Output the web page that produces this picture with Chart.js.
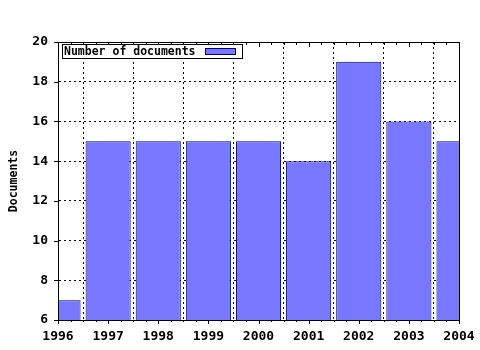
<!DOCTYPE html>
<html>
<head>
<meta charset="utf-8">
<script src="https://cdn.jsdelivr.net/npm/chart.js@4/dist/chart.umd.min.js"></script>
<style>
  html, body { margin: 0; padding: 0; background: #fff; }
  #wrap { width: 480px; height: 350px; }
</style>
</head>
<body>
<div id="wrap"><canvas id="docs-chart" width="480" height="350"></canvas></div>
<script>
// data
const years = [1996, 1997, 1998, 1999, 2000, 2001, 2002, 2003, 2004];
const documents = [7, 15, 15, 15, 15, 14, 19, 16, 15];
const seriesLabel = 'Number of documents';
const yTicks = [6, 8, 10, 12, 14, 16, 18, 20];

const barFill = 'rgb(120,120,255)';
const barEdge = 'rgb(0,0,110)';
const monoFont = '"DejaVu Sans Mono", "Liberation Mono", monospace';

// gnuplot style frame, ticks and key
const framePlugin = {
    id: 'frame',
    afterDatasetsDraw(chart) {
        const ctx = chart.ctx;
        const a = chart.chartArea;
        const xs = chart.scales.x, ys = chart.scales.y;
        ctx.save();
        ctx.strokeStyle = '#000';
        ctx.lineWidth = 1;
        ctx.strokeRect(Math.round(a.left) + 0.5, Math.round(a.top) + 0.5,
                       Math.round(a.right - a.left), Math.round(a.bottom - a.top));
        ctx.beginPath();
        for (let v = years[0]; v <= years[years.length - 1] + 1e-6; v += 0.25) {
            const px = Math.round(xs.getPixelForValue(v)) + 0.5;
            const major = Math.abs(v - Math.round(v)) < 1e-6;
            const len = major ? 5 : 3;
            ctx.moveTo(px, a.bottom); ctx.lineTo(px, a.bottom + (major ? 4 : 2));
            ctx.moveTo(px, a.top); ctx.lineTo(px, a.top + len);
        }
        yTicks.forEach(function (v) {
            const py = Math.round(ys.getPixelForValue(v)) + 0.5;
            ctx.moveTo(a.left - 4, py); ctx.lineTo(a.left, py);
        });
        ctx.stroke();

        // key
        const kx = a.left + 4, ky = a.top + 2;
        ctx.fillStyle = '#fff';
        ctx.fillRect(kx, ky, 180, 14);
        ctx.strokeRect(kx + 0.5, ky + 0.5, 180, 14);
        ctx.fillStyle = '#000';
        ctx.font = 'bold 11.5px ' + monoFont;
        ctx.textBaseline = 'middle';
        ctx.textAlign = 'left';
        ctx.fillText(chart.data.datasets[0].label, kx + 2, ky + 8);
        ctx.fillStyle = barFill;
        ctx.fillRect(kx + 143, ky + 5, 30, 6);
        ctx.strokeStyle = barEdge;
        ctx.strokeRect(kx + 143.5, ky + 4.5, 30, 6);
        ctx.restore();
    }
};

const dotted = [2, 3];

const ctxDocs = document.getElementById('docs-chart').getContext('2d');
const docsChart = new Chart(ctxDocs, {
    type: 'bar',
    data: {
        datasets: [{
            label: seriesLabel,
            data: years.map(function (y, i) { return { x: y, y: documents[i] }; }),
            backgroundColor: barFill,
            borderColor: barEdge,
            borderWidth: 1,
            borderSkipped: 'bottom',
            barPercentage: 0.9,
            categoryPercentage: 1.0
        }]
    },
    options: {
        responsive: false,
        animation: false,
        layout: { padding: { top: 42, right: 21, left: 0, bottom: 0 } },
        plugins: {
            legend: { display: false },
            tooltip: { enabled: false }
        },
        scales: {
            x: {
                type: 'linear',
                min: years[0],
                max: years[years.length - 1],
                offset: false,
                afterFit: function (s) { s.height = 30; s.paddingLeft = 0; s.paddingRight = 0; },
                ticks: {
                    stepSize: 1,
                    padding: 9,
                    color: '#000',
                    maxRotation: 0,
                    autoSkip: false,
                    font: { family: monoFont, size: 13, weight: 'bold' },
                    callback: function (v) { return String(v); }
                },
                grid: { color: '#000', drawTicks: false, lineWidth: 1, borderDash: dotted },
                border: { display: true, color: '#000', dash: dotted }
            },
            y: {
                min: yTicks[0],
                max: yTicks[yTicks.length - 1],
                afterFit: function (s) { s.width = 58; },
                ticks: {
                    stepSize: 2,
                    padding: 10,
                    color: '#000',
                    font: { family: monoFont, size: 13, weight: 'bold' }
                },
                grid: { color: '#000', drawTicks: false, lineWidth: 1, borderDash: dotted },
                border: { display: true, color: '#000', dash: dotted },
                title: {
                    display: true,
                    text: 'Documents',
                    color: '#000',
                    padding: { top: 7, bottom: 0 },
                    font: { family: monoFont, size: 11.5, weight: 'bold' }
                }
            }
        }
    },
    plugins: [framePlugin]
});
</script>
</body>
</html>
